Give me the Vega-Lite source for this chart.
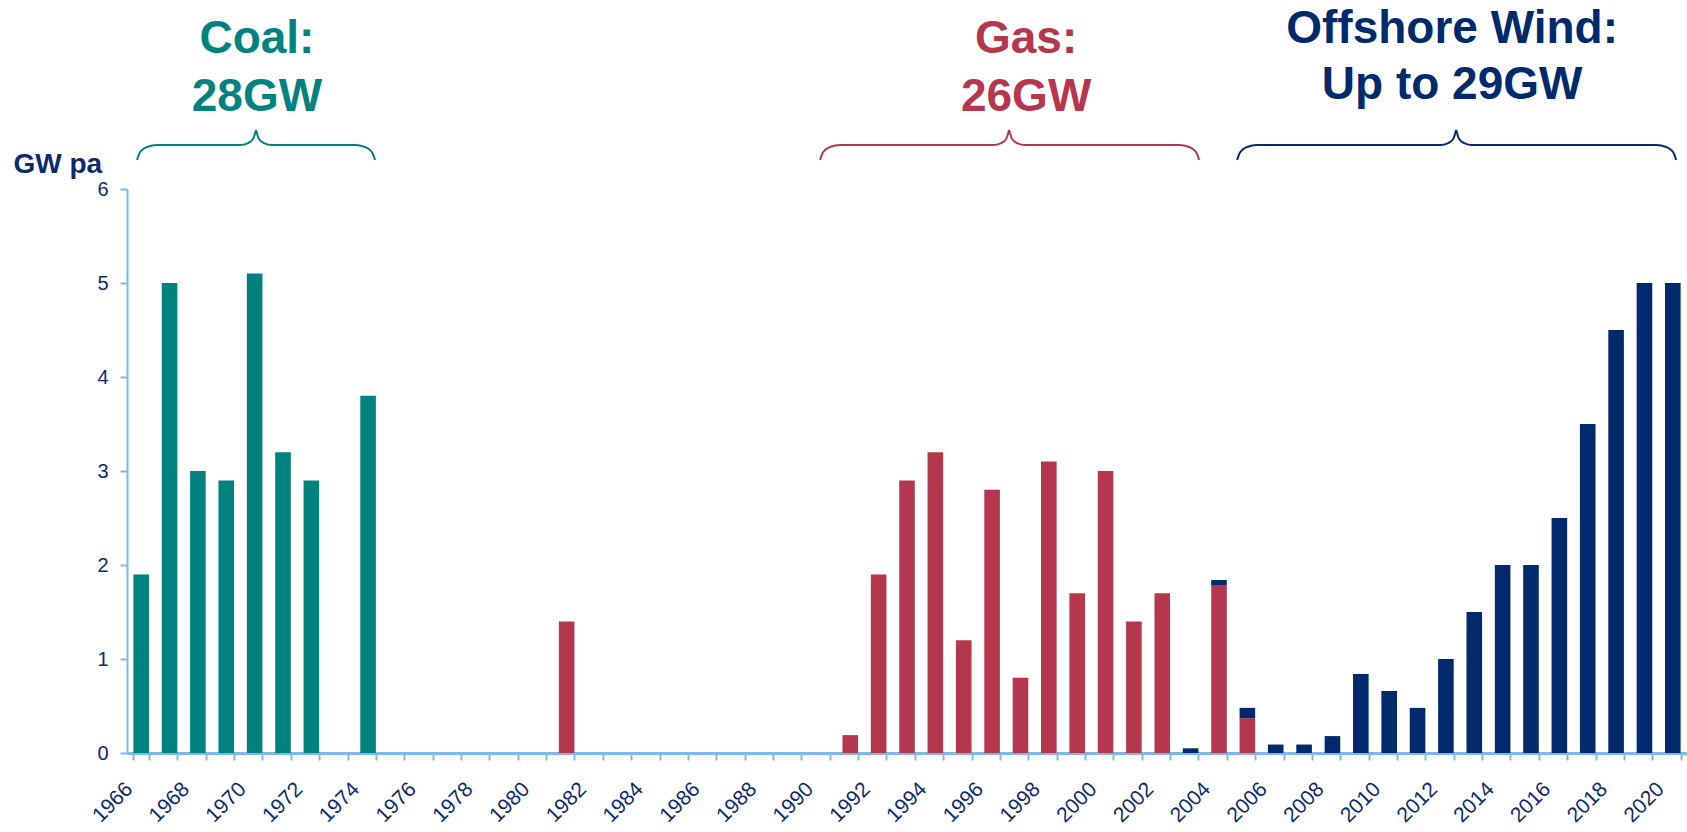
{
  "$schema": "https://vega.github.io/schema/vega-lite/v6.json",
  "width": 1560,
  "height": 564,
  "autosize": {"type": "none"},
  "padding": {"left": 127, "top": 189, "right": 0, "bottom": 79},
  "background": "white",
  "config": {"view": {"stroke": null}, "font": "Liberation Sans"},
  "datasets": {
    "bars": [
      {"year": 1966, "fuel": "Coal", "gw": 1.9},
      {"year": 1967, "fuel": "Coal", "gw": 5.0},
      {"year": 1968, "fuel": "Coal", "gw": 3.0},
      {"year": 1969, "fuel": "Coal", "gw": 2.9},
      {"year": 1970, "fuel": "Coal", "gw": 5.1},
      {"year": 1971, "fuel": "Coal", "gw": 3.2},
      {"year": 1972, "fuel": "Coal", "gw": 2.9},
      {"year": 1974, "fuel": "Coal", "gw": 3.8},
      {"year": 1981, "fuel": "Gas", "gw": 1.4},
      {"year": 1991, "fuel": "Gas", "gw": 0.19},
      {"year": 1992, "fuel": "Gas", "gw": 1.9},
      {"year": 1993, "fuel": "Gas", "gw": 2.9},
      {"year": 1994, "fuel": "Gas", "gw": 3.2},
      {"year": 1995, "fuel": "Gas", "gw": 1.2},
      {"year": 1996, "fuel": "Gas", "gw": 2.8},
      {"year": 1997, "fuel": "Gas", "gw": 0.8},
      {"year": 1998, "fuel": "Gas", "gw": 3.1},
      {"year": 1999, "fuel": "Gas", "gw": 1.7},
      {"year": 2000, "fuel": "Gas", "gw": 3.0},
      {"year": 2001, "fuel": "Gas", "gw": 1.4},
      {"year": 2002, "fuel": "Gas", "gw": 1.7},
      {"year": 2003, "fuel": "Wind", "gw": 0.05},
      {"year": 2004, "fuel": "Gas", "gw": 1.78},
      {"year": 2004, "fuel": "Wind", "gw": 0.06},
      {"year": 2005, "fuel": "Gas", "gw": 0.37},
      {"year": 2005, "fuel": "Wind", "gw": 0.11},
      {"year": 2006, "fuel": "Wind", "gw": 0.09},
      {"year": 2007, "fuel": "Wind", "gw": 0.09},
      {"year": 2008, "fuel": "Wind", "gw": 0.18},
      {"year": 2009, "fuel": "Wind", "gw": 0.84},
      {"year": 2010, "fuel": "Wind", "gw": 0.66},
      {"year": 2011, "fuel": "Wind", "gw": 0.48},
      {"year": 2012, "fuel": "Wind", "gw": 1.0},
      {"year": 2013, "fuel": "Wind", "gw": 1.5},
      {"year": 2014, "fuel": "Wind", "gw": 2.0},
      {"year": 2015, "fuel": "Wind", "gw": 2.0},
      {"year": 2016, "fuel": "Wind", "gw": 2.5},
      {"year": 2017, "fuel": "Wind", "gw": 3.5},
      {"year": 2018, "fuel": "Wind", "gw": 4.5},
      {"year": 2019, "fuel": "Wind", "gw": 5.0},
      {"year": 2020, "fuel": "Wind", "gw": 5.0}
    ],
    "braces": [
      {"fuel": "Coal", "part": "CoalL", "x": 1965.853, "y": 6.309},
      {"fuel": "Coal", "part": "CoalL", "x": 1965.923, "y": 6.372},
      {"fuel": "Coal", "part": "CoalL", "x": 1966.029, "y": 6.415},
      {"fuel": "Coal", "part": "CoalL", "x": 1966.205, "y": 6.447},
      {"fuel": "Coal", "part": "CoalL", "x": 1966.558, "y": 6.468},
      {"fuel": "Coal", "part": "CoalL", "x": 1969.484, "y": 6.468},
      {"fuel": "Coal", "part": "CoalL", "x": 1969.767, "y": 6.489},
      {"fuel": "Coal", "part": "CoalL", "x": 1969.943, "y": 6.532},
      {"fuel": "Coal", "part": "CoalL", "x": 1970.049, "y": 6.628},
      {"fuel": "Coal", "part": "CoalR", "x": 1970.049, "y": 6.628},
      {"fuel": "Coal", "part": "CoalR", "x": 1970.154, "y": 6.532},
      {"fuel": "Coal", "part": "CoalR", "x": 1970.331, "y": 6.489},
      {"fuel": "Coal", "part": "CoalR", "x": 1970.613, "y": 6.468},
      {"fuel": "Coal", "part": "CoalR", "x": 1973.540, "y": 6.468},
      {"fuel": "Coal", "part": "CoalR", "x": 1973.892, "y": 6.447},
      {"fuel": "Coal", "part": "CoalR", "x": 1974.068, "y": 6.415},
      {"fuel": "Coal", "part": "CoalR", "x": 1974.174, "y": 6.372},
      {"fuel": "Coal", "part": "CoalR", "x": 1974.245, "y": 6.309},
      {"fuel": "Gas", "part": "GasL", "x": 1989.936, "y": 6.309},
      {"fuel": "Gas", "part": "GasL", "x": 1990.006, "y": 6.372},
      {"fuel": "Gas", "part": "GasL", "x": 1990.112, "y": 6.415},
      {"fuel": "Gas", "part": "GasL", "x": 1990.288, "y": 6.447},
      {"fuel": "Gas", "part": "GasL", "x": 1990.641, "y": 6.468},
      {"fuel": "Gas", "part": "GasL", "x": 1996.036, "y": 6.468},
      {"fuel": "Gas", "part": "GasL", "x": 1996.318, "y": 6.489},
      {"fuel": "Gas", "part": "GasL", "x": 1996.494, "y": 6.532},
      {"fuel": "Gas", "part": "GasL", "x": 1996.600, "y": 6.628},
      {"fuel": "Gas", "part": "GasR", "x": 1996.600, "y": 6.628},
      {"fuel": "Gas", "part": "GasR", "x": 1996.706, "y": 6.532},
      {"fuel": "Gas", "part": "GasR", "x": 1996.882, "y": 6.489},
      {"fuel": "Gas", "part": "GasR", "x": 1997.164, "y": 6.468},
      {"fuel": "Gas", "part": "GasR", "x": 2002.594, "y": 6.468},
      {"fuel": "Gas", "part": "GasR", "x": 2002.947, "y": 6.447},
      {"fuel": "Gas", "part": "GasR", "x": 2003.123, "y": 6.415},
      {"fuel": "Gas", "part": "GasR", "x": 2003.229, "y": 6.372},
      {"fuel": "Gas", "part": "GasR", "x": 2003.300, "y": 6.309},
      {"fuel": "Wind", "part": "WindL", "x": 2004.640, "y": 6.309},
      {"fuel": "Wind", "part": "WindL", "x": 2004.710, "y": 6.372},
      {"fuel": "Wind", "part": "WindL", "x": 2004.816, "y": 6.415},
      {"fuel": "Wind", "part": "WindL", "x": 2004.992, "y": 6.447},
      {"fuel": "Wind", "part": "WindL", "x": 2005.345, "y": 6.468},
      {"fuel": "Wind", "part": "WindL", "x": 2011.798, "y": 6.468},
      {"fuel": "Wind", "part": "WindL", "x": 2012.080, "y": 6.489},
      {"fuel": "Wind", "part": "WindL", "x": 2012.256, "y": 6.532},
      {"fuel": "Wind", "part": "WindL", "x": 2012.362, "y": 6.628},
      {"fuel": "Wind", "part": "WindR", "x": 2012.362, "y": 6.628},
      {"fuel": "Wind", "part": "WindR", "x": 2012.468, "y": 6.532},
      {"fuel": "Wind", "part": "WindR", "x": 2012.644, "y": 6.489},
      {"fuel": "Wind", "part": "WindR", "x": 2012.926, "y": 6.468},
      {"fuel": "Wind", "part": "WindR", "x": 2019.414, "y": 6.468},
      {"fuel": "Wind", "part": "WindR", "x": 2019.767, "y": 6.447},
      {"fuel": "Wind", "part": "WindR", "x": 2019.943, "y": 6.415},
      {"fuel": "Wind", "part": "WindR", "x": 2020.049, "y": 6.372},
      {"fuel": "Wind", "part": "WindR", "x": 2020.119, "y": 6.309}
    ],
    "labels": [
      {"fuel": "Coal", "text": "Coal:", "x": 1970.08, "y": 7.447},
      {"fuel": "Coal", "text": "28GW", "x": 1970.08, "y": 6.83},
      {"fuel": "Gas", "text": "Gas:", "x": 1997.2, "y": 7.447},
      {"fuel": "Gas", "text": "26GW", "x": 1997.2, "y": 6.83},
      {"fuel": "Wind", "text": "Offshore Wind:", "x": 2012.22, "y": 7.553},
      {"fuel": "Wind", "text": "Up to 29GW", "x": 2012.22, "y": 6.957}
    ]
  },
  "layer": [
    {
      "data": {"name": "bars"},
      "mark": {"type": "bar"},
      "encoding": {
        "x": {
          "field": "year",
          "type": "ordinal",
          "scale": {
            "domain": [1966,1967,1968,1969,1970,1971,1972,1973,1974,1975,1976,1977,1978,1979,1980,1981,1982,1983,1984,1985,1986,1987,1988,1989,1990,1991,1992,1993,1994,1995,1996,1997,1998,1999,2000,2001,2002,2003,2004,2005,2006,2007,2008,2009,2010,2011,2012,2013,2014,2015,2016,2017,2018,2019,2020],
            "paddingInner": 0.45,
            "paddingOuter": 0.225
          },
          "axis": {
            "title": null,
            "labelExpr": "datum.value % 2 == 0 ? datum.label : ''",
            "labelAngle": -45,
            "labelAlign": "right",
            "labelBaseline": "alphabetic",
            "labelFontSize": 21,
            "labelFont": "Liberation Sans",
            "labelColor": "#0B2B6B",
            "labelOverlap": false,
            "labelPadding": 30,
            "labelOffset": -8,
            "tickBand": "extent",
            "tickSize": 7,
            "tickWidth": 2,
            "tickColor": "#7DB9E8",
            "domainColor": "#7DB9E8",
            "domainWidth": 3
          }
        },
        "y": {
          "field": "gw",
          "type": "quantitative",
          "stack": "zero",
          "title": "GW pa",
          "scale": {"domain": [0, 6], "nice": false},
          "axis": {
            "title": "GW pa",
            "titleAngle": 0,
            "titleAlign": "left",
            "titleBaseline": "alphabetic",
            "titleX": -114,
            "titleY": -17,
            "titleFontSize": 28,
            "titleFontWeight": "bold",
            "titleFont": "Liberation Sans",
            "titleColor": "#0B2B6B",
            "values": [0, 1, 2, 3, 4, 5, 6],
            "format": "d",
            "labelFontSize": 20,
            "labelFont": "Liberation Sans",
            "labelColor": "#0B2B6B",
            "labelPadding": 12,
            "tickSize": 7,
            "tickWidth": 2,
            "tickColor": "#7DB9E8",
            "domainColor": "#7DB9E8",
            "domainWidth": 2,
            "grid": false
          }
        },
        "color": {
          "field": "fuel",
          "type": "nominal",
          "scale": {"domain": ["Coal", "Gas", "Wind"], "range": ["#00827F", "#B5374D", "#002A6C"]},
          "legend": null
        },
        "order": {"field": "fuel", "type": "nominal", "sort": "ascending"}
      }
    },
    {
      "data": {"name": "braces"},
      "mark": {"type": "line", "interpolate": "monotone", "strokeWidth": 2},
      "encoding": {
        "x": {"field": "x", "type": "quantitative", "scale": {"domain": [1965.5, 2020.5], "nice": false, "zero": false}, "axis": null},
        "y": {"field": "y", "type": "quantitative", "title": "GW pa"},
        "color": {"field": "fuel", "type": "nominal", "legend": null},
        "detail": {"field": "part", "type": "nominal"}
      }
    },
    {
      "data": {"name": "labels"},
      "mark": {"type": "text", "fontSize": 46, "fontWeight": "bold", "font": "Liberation Sans", "baseline": "alphabetic", "align": "center"},
      "encoding": {
        "x": {"field": "x", "type": "quantitative", "scale": {"domain": [1965.5, 2020.5], "nice": false, "zero": false}, "axis": null},
        "y": {"field": "y", "type": "quantitative", "title": "GW pa"},
        "text": {"field": "text", "type": "nominal"},
        "color": {"field": "fuel", "type": "nominal", "legend": null}
      }
    }
  ],
  "resolve": {"scale": {"x": "independent"}, "axis": {"x": "independent"}}
}
